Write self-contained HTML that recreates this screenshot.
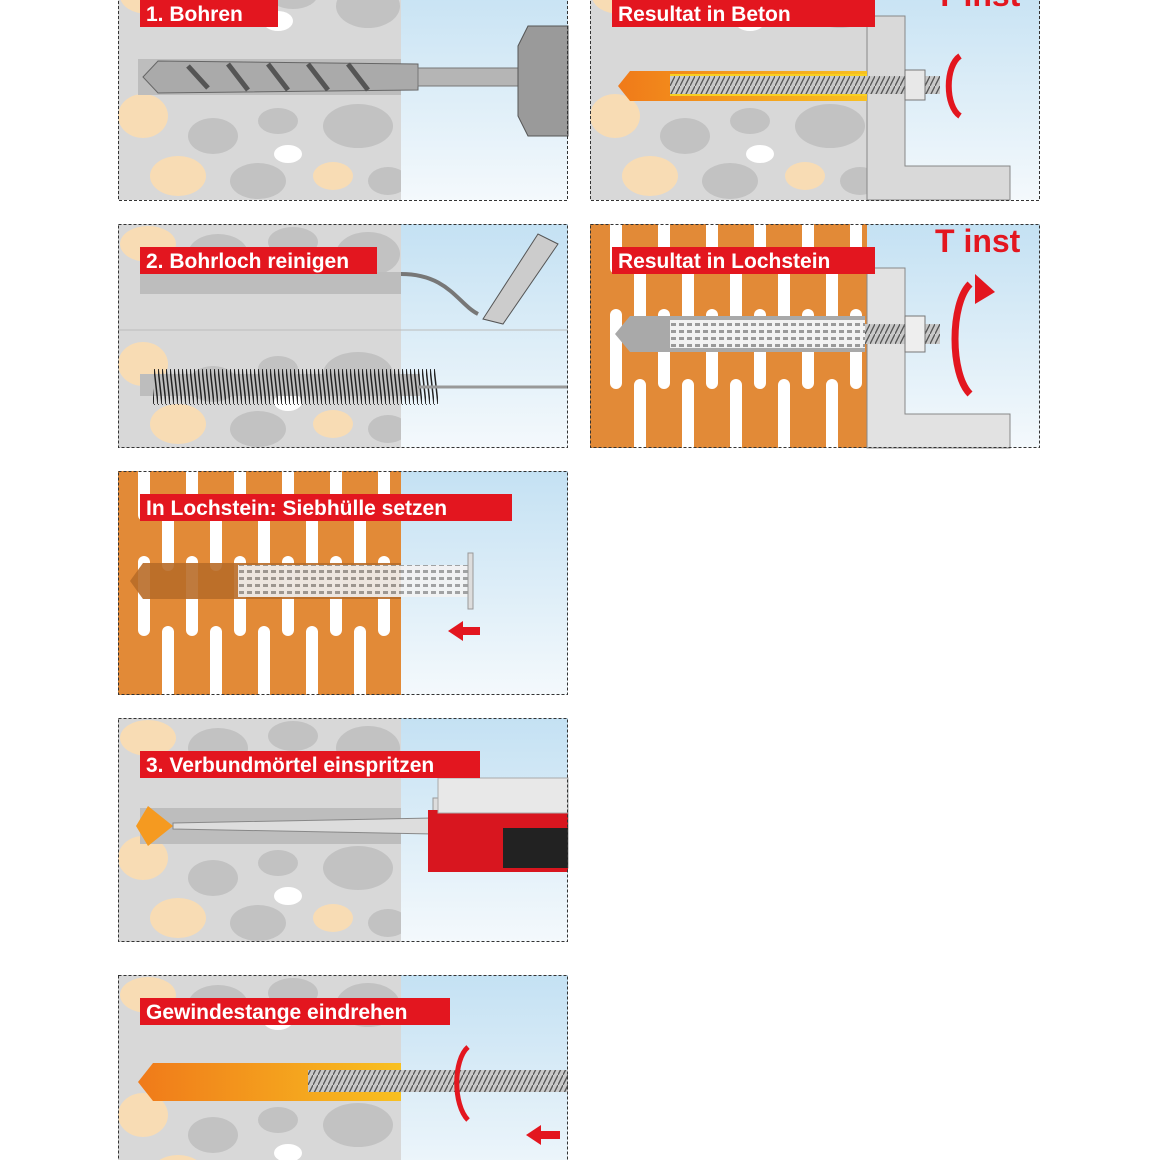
<!DOCTYPE html>
<html><head><meta charset="utf-8"><style>
html,body{margin:0;padding:0;background:#fff;}
svg{display:block;}
text{font-family:"Liberation Sans",sans-serif;font-weight:bold;}
</style></head><body>
<svg width="1160" height="1160" viewBox="0 0 1160 1160" xmlns="http://www.w3.org/2000/svg">
<defs>
<linearGradient id="sky" x1="0" y1="0" x2="0" y2="1"><stop offset="0" stop-color="#c4e1f3"/><stop offset="1" stop-color="#f4f9fc"/></linearGradient>
<linearGradient id="fire" x1="0" y1="0" x2="1" y2="0"><stop offset="0" stop-color="#f07a1a"/><stop offset="1" stop-color="#f8c020"/></linearGradient>
<pattern id="thread" width="5" height="10" patternUnits="userSpaceOnUse"><rect width="5" height="10" fill="#c8c8c8"/><path d="M0 10 L5 0" stroke="#555" stroke-width="1.3"/></pattern>
<pattern id="sieve" width="8" height="7" patternUnits="userSpaceOnUse"><rect width="8" height="7" fill="#f2f2f2"/><rect x="1" y="1" width="5" height="3" fill="#9a9a9a"/></pattern>
<pattern id="bristle" width="4" height="36" patternUnits="userSpaceOnUse"><path d="M0 0 L4 36" stroke="#222" stroke-width="1.5"/></pattern>
<g id="concrete">
 <rect width="283" height="224" fill="#d8d8d8"/>
 <ellipse cx="30" cy="20" rx="28" ry="18" fill="#f8dcb4"/>
 <ellipse cx="100" cy="30" rx="30" ry="20" fill="#c2c2c2"/>
 <ellipse cx="175" cy="18" rx="25" ry="15" fill="#c2c2c2"/>
 <ellipse cx="250" cy="30" rx="32" ry="22" fill="#c2c2c2"/>
 <ellipse cx="160" cy="45" rx="15" ry="10" fill="#fff"/>
 <ellipse cx="25" cy="140" rx="25" ry="22" fill="#f8dcb4"/>
 <ellipse cx="95" cy="160" rx="25" ry="18" fill="#c2c2c2"/>
 <ellipse cx="160" cy="145" rx="20" ry="13" fill="#c2c2c2"/>
 <ellipse cx="240" cy="150" rx="35" ry="22" fill="#c2c2c2"/>
 <ellipse cx="170" cy="178" rx="14" ry="9" fill="#fff"/>
 <ellipse cx="60" cy="200" rx="28" ry="20" fill="#f8dcb4"/>
 <ellipse cx="140" cy="205" rx="28" ry="18" fill="#c2c2c2"/>
 <ellipse cx="215" cy="200" rx="20" ry="14" fill="#f8dcb4"/>
 <ellipse cx="270" cy="205" rx="20" ry="14" fill="#c2c2c2"/>
</g>
<g id="brick">
 <rect width="283" height="224" fill="#fff"/>
 <rect x="0" y="0" width="283" height="224" fill="#e28a37"/>
 <g fill="#fff">
  <rect x="20" y="-10" width="12" height="60" rx="6"/><rect x="68" y="-10" width="12" height="60" rx="6"/><rect x="116" y="-10" width="12" height="60" rx="6"/><rect x="164" y="-10" width="12" height="60" rx="6"/><rect x="212" y="-10" width="12" height="60" rx="6"/><rect x="260" y="-10" width="12" height="60" rx="6"/>
  <rect x="44" y="30" width="12" height="70" rx="6"/><rect x="92" y="30" width="12" height="70" rx="6"/><rect x="140" y="30" width="12" height="70" rx="6"/><rect x="188" y="30" width="12" height="70" rx="6"/><rect x="236" y="30" width="12" height="70" rx="6"/>
  <rect x="20" y="85" width="12" height="80" rx="6"/><rect x="68" y="85" width="12" height="80" rx="6"/><rect x="116" y="85" width="12" height="80" rx="6"/><rect x="164" y="85" width="12" height="80" rx="6"/><rect x="212" y="85" width="12" height="80" rx="6"/><rect x="260" y="85" width="12" height="80" rx="6"/>
  <rect x="44" y="155" width="12" height="80" rx="6"/><rect x="92" y="155" width="12" height="80" rx="6"/><rect x="140" y="155" width="12" height="80" rx="6"/><rect x="188" y="155" width="12" height="80" rx="6"/><rect x="236" y="155" width="12" height="80" rx="6"/>
 </g>
</g>
</defs>

<g transform="translate(118,-24)">
 <use href="#concrete"/><rect x="283" width="167" height="224" fill="url(#sky)"/>
 <rect x="20" y="83" width="263" height="36" fill="#bdbdbd"/>
 <path d="M25 101 L40 85 L300 88 L300 114 L40 117 Z" fill="#aaa" stroke="#666"/>
 <path d="M70 90 L90 112 M110 88 L130 114 M150 88 L170 114 M190 88 L210 114 M230 88 L250 114" stroke="#555" stroke-width="5"/>
 <rect x="300" y="92" width="105" height="18" fill="#b5b5b5" stroke="#777"/>
 <path d="M400 70 L410 50 L450 50 L450 160 L410 160 L400 140 Z" fill="#9a9a9a" stroke="#555"/>
 <rect x="22" y="24" width="138" height="27" fill="#e3161f"/>
 <text x="28" y="45" font-size="21" fill="#fff">1. Bohren</text>
</g>
<g transform="translate(590,-24)">
 <use href="#concrete"/><rect x="277" width="173" height="224" fill="url(#sky)"/>
 <path d="M277 40 L315 40 L315 190 L420 190 L420 224 L277 224 Z" fill="#d9d9d9" stroke="#888"/>
 <path d="M28 110 L40 95 L277 95 L277 125 L40 125 Z" fill="url(#fire)"/>
 <rect x="80" y="98" width="197" height="22" fill="#f8d020"/>
 <rect x="80" y="100" width="270" height="18" fill="url(#thread)"/>
 <rect x="315" y="94" width="20" height="30" fill="#e8e8e8" stroke="#777"/>
 <path d="M370 80 C355 90 355 130 370 140" stroke="#e3161f" stroke-width="6" fill="none"/>
 <rect x="22" y="24" width="263" height="27" fill="#e3161f"/>
 <text x="28" y="45" font-size="21" fill="#fff">Resultat in Beton</text>
 <text x="345" y="30" font-size="32" fill="#e3161f">T inst</text>
</g>

<g transform="translate(118,224)">
 <use href="#concrete"/><rect x="283" width="167" height="224" fill="url(#sky)"/>
 <rect x="22" y="48" width="261" height="22" fill="#bdbdbd"/>
 <path d="M283 50 C330 50 340 80 360 90" stroke="#777" stroke-width="4" fill="none"/>
 <path d="M365 95 L420 10 L440 20 L385 100 Z" fill="#ccc" stroke="#555"/>
 <line x1="0" y1="106" x2="450" y2="106" stroke="#bbb"/>
 <rect x="22" y="150" width="280" height="22" fill="#bdbdbd"/>
 <rect x="35" y="145" width="285" height="36" fill="url(#bristle)"/>
 <line x1="300" y1="163" x2="450" y2="163" stroke="#999" stroke-width="3"/>
 <rect x="22" y="23" width="237" height="27" fill="#e3161f"/>
 <text x="28" y="44" font-size="21" fill="#fff">2. Bohrloch reinigen</text>
</g>
<g transform="translate(590,224)">
 <use href="#brick"/><rect x="277" width="173" height="224" fill="url(#sky)"/>
 <path d="M277 44 L315 44 L315 190 L420 190 L420 224 L277 224 Z" fill="#e2e2e2" stroke="#888"/>
 <path d="M25 110 L40 92 L275 92 L275 128 L40 128 Z" fill="#a9a9a9"/>
 <rect x="80" y="96" width="195" height="28" fill="url(#sieve)"/>
 <rect x="275" y="100" width="75" height="20" fill="url(#thread)"/>
 <rect x="315" y="92" width="20" height="36" fill="#eee" stroke="#777"/>
 <path d="M380 60 C360 80 360 150 380 170" stroke="#e3161f" stroke-width="7" fill="none"/>
 <path d="M385 50 L405 68 L385 80 Z" fill="#e3161f"/>
 <rect x="22" y="23" width="263" height="27" fill="#e3161f"/>
 <text x="28" y="44" font-size="21" fill="#fff">Resultat in Lochstein</text>
 <text x="345" y="28" font-size="32" fill="#e3161f">T inst</text>
</g>

<g transform="translate(118,471)">
 <use href="#brick"/><rect x="283" width="167" height="224" fill="url(#sky)"/>
 <path d="M12 110 L25 92 L283 92 L283 128 L25 128 Z" fill="#b86c28" opacity="0.9"/>
 <rect x="120" y="94" width="230" height="32" fill="url(#sieve)" opacity="0.9"/>
 <rect x="350" y="82" width="5" height="56" fill="#ddd" stroke="#999"/>
 <path d="M330 160 L345 150 L345 156 L362 156 L362 164 L345 164 L345 170 Z" fill="#e3161f"/>
 <rect x="22" y="23" width="372" height="27" fill="#e3161f"/>
 <text x="28" y="44" font-size="21" fill="#fff">In Lochstein: Siebhülle setzen</text>
</g>

<g transform="translate(118,718)">
 <use href="#concrete"/><rect x="283" width="167" height="224" fill="url(#sky)"/>
 <rect x="22" y="90" width="261" height="36" fill="#bdbdbd"/>
 <path d="M18 108 L30 88 L55 108 L30 128 Z" fill="#f59a20"/>
 <path d="M55 105 L315 100 L315 116 L55 111 Z" fill="#ddd" stroke="#888"/>
 <rect x="315" y="80" width="135" height="70" fill="#ddd" stroke="#999"/>
 <rect x="310" y="92" width="140" height="62" fill="#d8161f"/>
 <rect x="385" y="110" width="65" height="40" fill="#222"/>
 <rect x="320" y="60" width="130" height="35" fill="#e8e8e8" stroke="#aaa"/>
 <rect x="22" y="33" width="340" height="27" fill="#e3161f"/>
 <text x="28" y="54" font-size="21" fill="#fff">3. Verbundmörtel einspritzen</text>
</g>

<g transform="translate(118,975)">
 <use href="#concrete"/><rect x="283" width="167" height="224" fill="url(#sky)"/>
 <path d="M20 107 L35 88 L283 88 L283 126 L35 126 Z" fill="url(#fire)"/>
 <rect x="190" y="95" width="260" height="22" fill="url(#thread)"/>
 <path d="M350 72 C335 85 335 130 350 145" stroke="#e3161f" stroke-width="5" fill="none"/>
 <path d="M408 160 L423 150 L423 156 L442 156 L442 164 L423 164 L423 170 Z" fill="#e3161f"/>
 <rect x="22" y="23" width="310" height="27" fill="#e3161f"/>
 <text x="28" y="44" font-size="21" fill="#fff">Gewindestange eindrehen</text>
</g>

<g fill="none" stroke="#333" stroke-width="1" stroke-dasharray="3,2">
 <rect x="118.5" y="-5" width="449" height="205.5"/>
 <rect x="590.5" y="-5" width="449" height="205.5"/>
 <rect x="118.5" y="224.5" width="449" height="223"/>
 <rect x="590.5" y="224.5" width="449" height="223"/>
 <rect x="118.5" y="471.5" width="449" height="223"/>
 <rect x="118.5" y="718.5" width="449" height="223"/>
 <rect x="118.5" y="975.5" width="449" height="200"/>
</g>
</svg>
</body></html>
